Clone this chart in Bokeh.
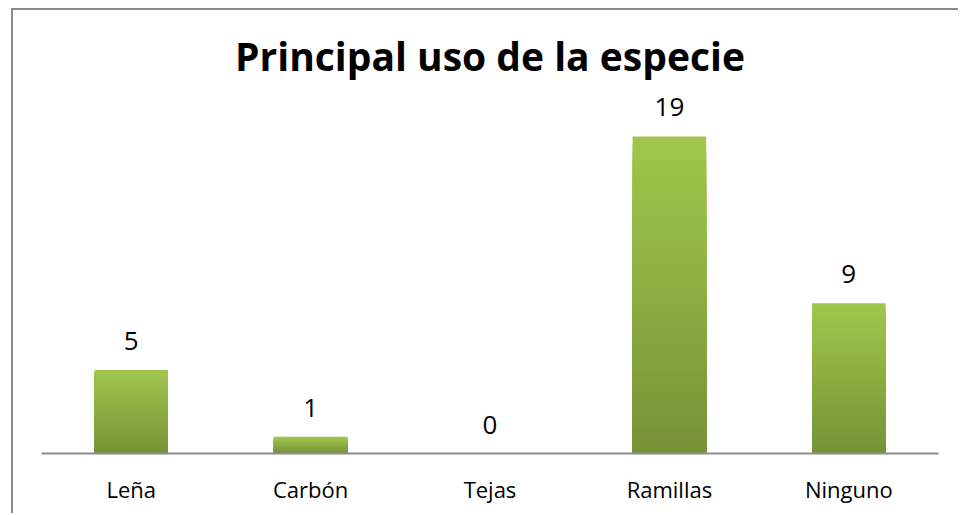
from bokeh.plotting import figure
from bokeh.models import Range1d, ColumnDataSource
from bokeh.core.properties import value
from bokeh.embed import file_html
from bokeh.resources import INLINE

categories = ["Leña", "Carbón", "Tejas", "Ramillas", "Ninguno"]
counts = [5, 1, 0, 19, 9]
title_text = "Principal uso de la especie"

FONT = "Open Sans"
TOP_RGB = (161, 199, 77)
BOT_RGB = (117, 147, 55)
N = 40

p = figure(x_range=categories, y_range=Range1d(0, 21.75),
           width=947, height=505, output_backend="svg", toolbar_location=None,
           min_border_left=28, min_border_right=22, min_border_top=80, min_border_bottom=62)
p.styles = {"border-left": "2px solid #8a8a8a", "border-top": "2px solid #8a8a8a",
            "margin-left": "11px", "margin-top": "8px"}
p.outline_line_color = None
p.xgrid.visible = False
p.ygrid.visible = False
p.yaxis.visible = False

# gradient bars: overlapping stacked rects from 0 up to a fraction of the value
for k in range(N):
    frac_top = (N - k) / N
    mid = (N - k - 0.5) / N
    c = tuple(int(round(BOT_RGB[i] + (TOP_RGB[i] - BOT_RGB[i]) * mid)) for i in range(3))
    color = "#%02x%02x%02x" % c
    tops = [v * frac_top for v in counts]
    p.vbar(x=categories, top=tops, bottom=0, width=0.41, fill_color=color, line_color=None)

src = ColumnDataSource(dict(x=categories, y=counts, t=[str(v) for v in counts]))
p.text(x="x", y="y", text="t", source=src, text_align="center", text_baseline="alphabetic",
       y_offset=-29, text_font=value(FONT), text_font_size="26px", text_color="#000000")

ax = p.xaxis[0]
ax.axis_line_color = "#8c8c8c"
ax.axis_line_width = 2
ax.major_tick_line_color = None
ax.minor_tick_line_color = None
ax.major_label_text_font = FONT
ax.major_label_text_font_size = "22px"
ax.major_label_text_color = "#000000"
ax.major_label_standoff = 14

p.title.text = title_text
p.title.align = "center"
p.title.offset = 8
p.title.text_font = FONT
p.title.text_font_style = "bold"
p.title.text_font_size = "39px"
p.title.text_color = "#000000"
p.title.standoff = 17

open("out.html", "w").write(file_html(p, INLINE))
